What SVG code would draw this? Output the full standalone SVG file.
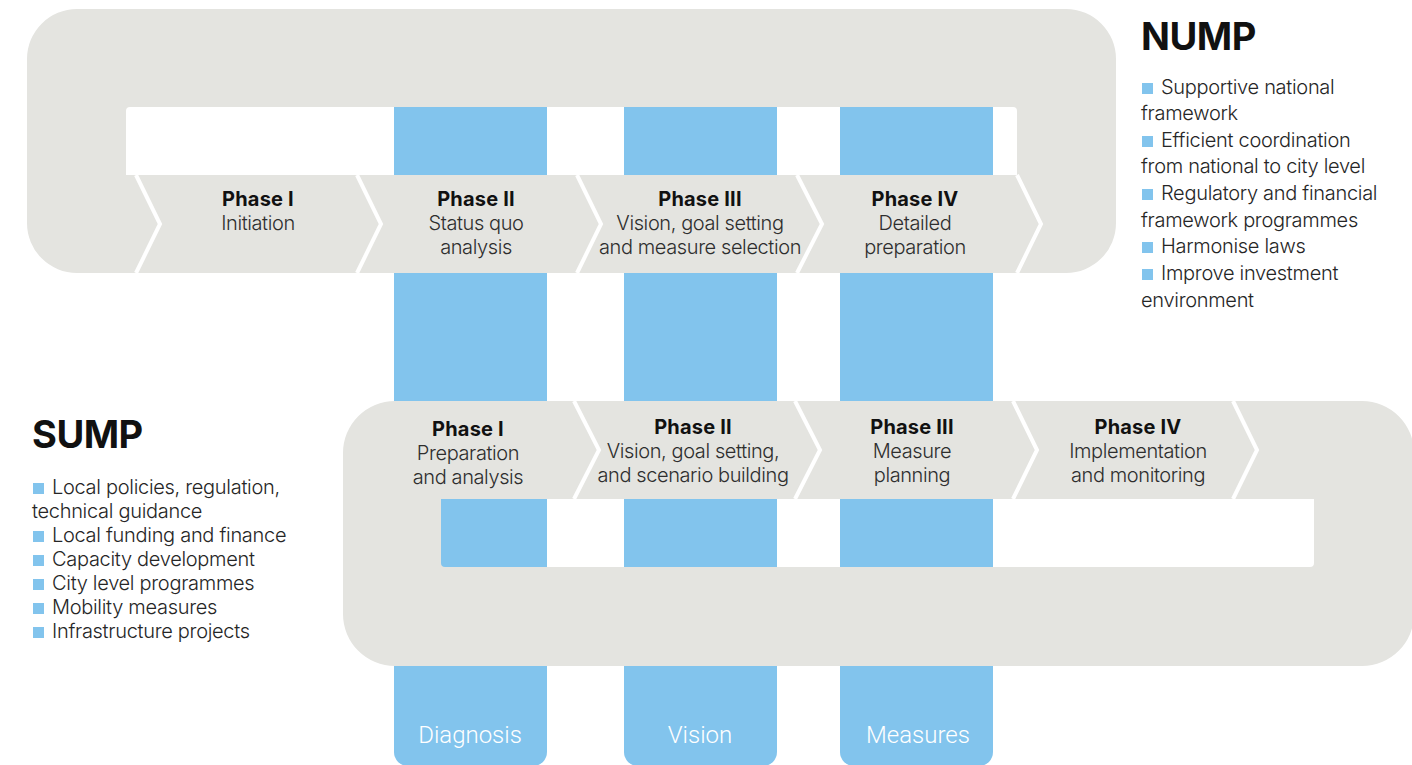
<svg xmlns="http://www.w3.org/2000/svg" width="1412" height="765" viewBox="0 0 1412 765">
  <style>
    .panel { fill: #E4E4E0; fill-rule: evenodd; }
    .col { fill: #82C4ED; }
    .sep { fill: none; stroke: #FFFFFF; stroke-width: 4; stroke-linejoin: miter; }
    .ph { font-family: Inter, "Liberation Sans", sans-serif; font-size: 20px; text-anchor: middle; fill: #1E1E1E; }
    .ph .t { font-weight: 700; fill: #111111; letter-spacing: 0.2px; }
    .ph .s { font-weight: 300; fill: #2E2E2E; letter-spacing: -0.4px; }
    .head { font-family: Inter, "Liberation Sans", sans-serif; font-size: 38px; font-weight: 700; fill: #111111; letter-spacing: -0.5px; }
    .item { font-family: Inter, "Liberation Sans", sans-serif; font-size: 20px; font-weight: 300; fill: #262626; letter-spacing: -0.3px; }
    .bullet { fill: #82C4ED; }
    .lab { font-family: Roboto, "Liberation Sans", sans-serif; font-size: 24px; font-weight: 300; fill: #FFFFFF; text-anchor: middle; }
  </style>

  <rect width="1412" height="765" fill="#FFFFFF"/>

  <!-- vertical stage columns, running behind both panels -->
  <g id="col-diagnosis">
    <path class="col" d="M394,100 H547 V752 A14,14 0 0 1 533,766 H408 A14,14 0 0 1 394,752 Z"/>
  </g>
  <g id="col-vision">
    <path class="col" d="M624,100 H777 V752 A14,14 0 0 1 763,766 H638 A14,14 0 0 1 624,752 Z"/>
  </g>
  <g id="col-measures">
    <path class="col" d="M840,100 H993 V752 A14,14 0 0 1 979,766 H854 A14,14 0 0 1 840,752 Z"/>
  </g>

  <!-- NUMP panel with its window -->
  <g id="nump-panel">
    <path class="panel" d="M77,9 H1066 A50,50 0 0 1 1116,59 V223 A50,50 0 0 1 1066,273 H77 A50,50 0 0 1 27,223 V59 A50,50 0 0 1 77,9 Z
      M130,107 H1013 A4,4 0 0 1 1017,111 V175 H126 V111 A4,4 0 0 1 130,107 Z"/>
  </g>

  <!-- SUMP panel with its window -->
  <g id="sump-panel">
    <path class="panel" d="M395,401 H1362 A52,52 0 0 1 1414,453 V614 A52,52 0 0 1 1362,666 H395 A52,52 0 0 1 343,614 V453 A52,52 0 0 1 395,401 Z
      M441,499 H1314 V563 A4,4 0 0 1 1310,567 H445 A4,4 0 0 1 441,563 Z"/>
  </g>

  <!-- chevron separators -->
  <g id="connectors">
    <polyline class="sep" points="136,175 160,224 136,273"/>
    <polyline class="sep" points="357,175 381,224 357,273"/>
    <polyline class="sep" points="577,175 601,224 577,273"/>
    <polyline class="sep" points="797,175 822,224 797,273"/>
    <polyline class="sep" points="1017,175 1041,224 1017,273"/>

    <polyline class="sep" points="574,401 599,450 574,499"/>
    <polyline class="sep" points="795,401 820,450 795,499"/>
    <polyline class="sep" points="1013,401 1037,450 1013,499"/>
    <polyline class="sep" points="1233,401 1257,450 1233,499"/>
  </g>

  <!-- NUMP phases -->
  <g id="nump-phase-1">
    <text class="ph"><tspan class="t" x="258" y="206">Phase I</tspan><tspan class="s" x="258" y="230">Initiation</tspan></text>
  </g>
  <g id="nump-phase-2">
    <text class="ph"><tspan class="t" x="476" y="206">Phase II</tspan><tspan class="s" x="476" y="230">Status quo</tspan><tspan class="s" x="476" y="254">analysis</tspan></text>
  </g>
  <g id="nump-phase-3">
    <text class="ph"><tspan class="t" x="700" y="206">Phase III</tspan><tspan class="s" x="700" y="230">Vision, goal setting</tspan><tspan class="s" x="700" y="254">and measure selection</tspan></text>
  </g>
  <g id="nump-phase-4">
    <text class="ph"><tspan class="t" x="915" y="206">Phase IV</tspan><tspan class="s" x="915" y="230">Detailed</tspan><tspan class="s" x="915" y="254">preparation</tspan></text>
  </g>

  <!-- SUMP phases -->
  <g id="sump-phase-1">
    <text class="ph"><tspan class="t" x="468" y="436">Phase I</tspan><tspan class="s" x="468" y="460">Preparation</tspan><tspan class="s" x="468" y="484">and analysis</tspan></text>
  </g>
  <g id="sump-phase-2">
    <text class="ph"><tspan class="t" x="693" y="434">Phase II</tspan><tspan class="s" x="693" y="458">Vision, goal setting,</tspan><tspan class="s" x="693" y="482">and scenario building</tspan></text>
  </g>
  <g id="sump-phase-3">
    <text class="ph"><tspan class="t" x="912" y="434">Phase III</tspan><tspan class="s" x="912" y="458">Measure</tspan><tspan class="s" x="912" y="482">planning</tspan></text>
  </g>
  <g id="sump-phase-4">
    <text class="ph"><tspan class="t" x="1138" y="434">Phase IV</tspan><tspan class="s" x="1138" y="458">Implementation</tspan><tspan class="s" x="1138" y="482">and monitoring</tspan></text>
  </g>

  <!-- NUMP legend -->
  <g id="nump-legend">
    <text class="head" x="1141" y="50">NUMP</text>
    <rect class="bullet" x="1142" y="83" width="11" height="11"/>
    <text class="item" x="1161" y="94">Supportive national</text>
    <text class="item" x="1141" y="120">framework</text>
    <rect class="bullet" x="1142" y="136" width="11" height="11"/>
    <text class="item" x="1161" y="147">Efficient coordination</text>
    <text class="item" x="1141" y="173">from national to city level</text>
    <rect class="bullet" x="1142" y="189" width="11" height="11"/>
    <text class="item" x="1161" y="200">Regulatory and financial</text>
    <text class="item" x="1141" y="227">framework programmes</text>
    <rect class="bullet" x="1142" y="242" width="11" height="11"/>
    <text class="item" x="1161" y="253">Harmonise laws</text>
    <rect class="bullet" x="1142" y="269" width="11" height="11"/>
    <text class="item" x="1161" y="280">Improve investment</text>
    <text class="item" x="1141" y="307">environment</text>
  </g>

  <!-- SUMP legend -->
  <g id="sump-legend">
    <text class="head" x="32" y="448">SUMP</text>
    <rect class="bullet" x="33" y="483" width="11" height="11"/>
    <text class="item" x="52" y="494">Local policies, regulation,</text>
    <text class="item" x="32" y="518">technical guidance</text>
    <rect class="bullet" x="33" y="531" width="11" height="11"/>
    <text class="item" x="52" y="542">Local funding and finance</text>
    <rect class="bullet" x="33" y="555" width="11" height="11"/>
    <text class="item" x="52" y="566">Capacity development</text>
    <rect class="bullet" x="33" y="579" width="11" height="11"/>
    <text class="item" x="52" y="590">City level programmes</text>
    <rect class="bullet" x="33" y="603" width="11" height="11"/>
    <text class="item" x="52" y="614">Mobility measures</text>
    <rect class="bullet" x="33" y="627" width="11" height="11"/>
    <text class="item" x="52" y="638">Infrastructure projects</text>
  </g>

  <!-- column labels -->
  <g id="labels">
    <text class="lab" x="470" y="743">Diagnosis</text>
    <text class="lab" x="700" y="743">Vision</text>
    <text class="lab" x="918" y="743">Measures</text>
  </g>
</svg>
